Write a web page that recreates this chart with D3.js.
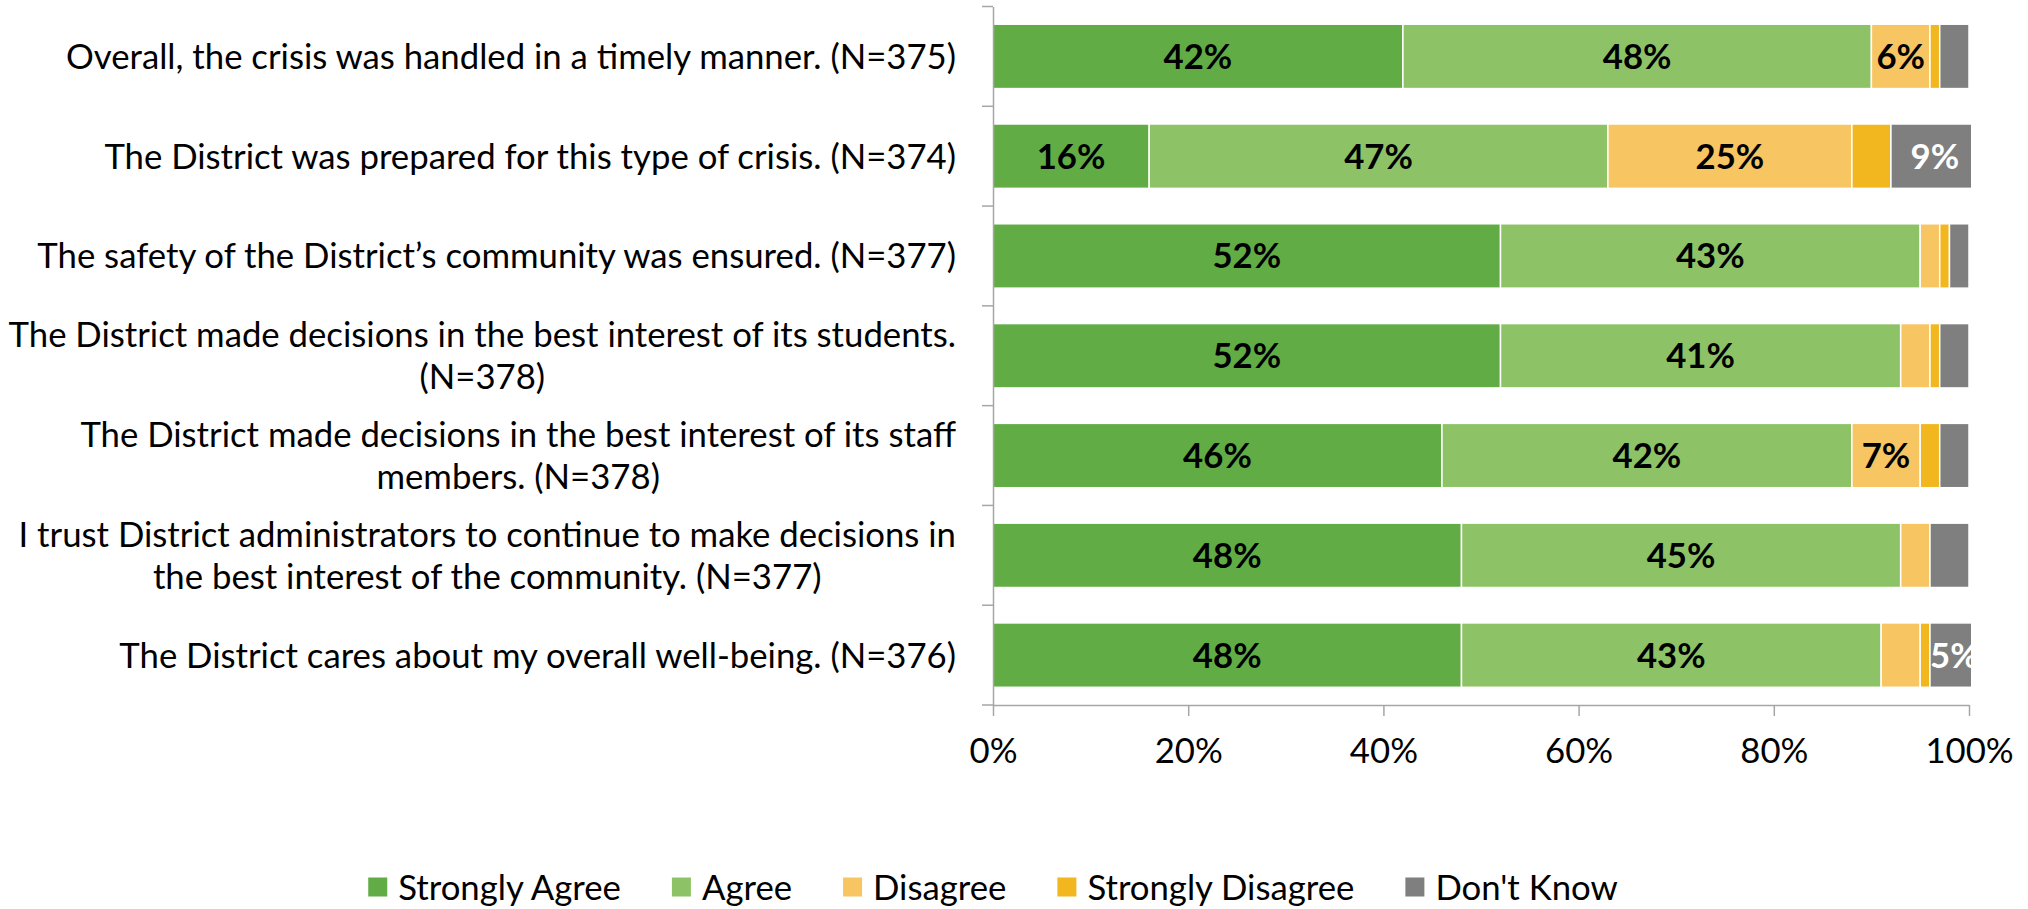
<!DOCTYPE html>
<html>
<head>
<meta charset="utf-8">
<script src="https://cdn.jsdelivr.net/npm/d3@7"></script>
<style>
  html, body { margin: 0; padding: 0; background: #fff; }
  svg { display: block; }
  text { font-family: Lato, "Open Sans", sans-serif; }
</style>
</head>
<body>
<svg id="chart" width="2028" height="909"></svg>
<script>
// ---------------- data ----------------
const categories = [
  "Overall, the crisis was handled in a timely manner. (N=375)",
  "The District was prepared for this type of crisis. (N=374)",
  "The safety of the District\u2019s community was ensured. (N=377)",
  "The District made decisions in the best interest of its students.\n(N=378)",
  "The District made decisions in the best interest of its staff\nmembers. (N=378)",
  "I trust District administrators to continue to make decisions in\nthe best interest of the community. (N=377)",
  "The District cares about my overall well-being. (N=376)"
];
const seriesNames = ["Strongly Agree", "Agree", "Disagree", "Strongly Disagree", "Don't Know"];
const stronglyAgree    = [42, 16, 52, 52, 46, 48, 48];
const agree            = [48, 47, 43, 41, 42, 45, 43];
const disagree         = [6, 25, 2, 3, 7, 3, 4];
const stronglyDisagree = [1, 4, 1, 1, 2, 0, 1];
const dontKnow         = [3, 9, 2, 3, 3, 4, 5];
const xTickValues = [0, 20, 40, 60, 80, 100];
const xTickLabels = ["0%", "20%", "40%", "60%", "80%", "100%"];

// ---------------- styles ----------------
const colors = ["#62ac46", "#8dc366", "#f7c562", "#f2b61e", "#7f7f7f"];
const labelColors = ["#000", "#000", "#000", "#000", "#fff"];
const axisColor = "#a6a6a6";

const svg = d3.select("#chart");

// font fitting: match Calibri-like width with the available font
const probe = svg.append("text").attr("font-size", 36).text(categories[0]);
const w0 = probe.node().getComputedTextLength();
probe.remove();
const fs = Math.min(36, 36 * 890 / w0);

const table = categories.map((c, i) => ({
  category: c,
  "Strongly Agree": stronglyAgree[i],
  "Agree": agree[i],
  "Disagree": disagree[i],
  "Strongly Disagree": stronglyDisagree[i],
  "Don't Know": dontKnow[i]
}));
const stacked = d3.stack().keys(seriesNames)(table);

const plot = { left: 993, right: 1969, top: 6.5, bottom: 705 };
const x = d3.scaleLinear().domain([0, 100]).range([plot.left, plot.right]);
const y = d3.scaleBand().domain(categories).range([plot.top, plot.bottom])
  .paddingInner(0.355).paddingOuter(0.1775);

// clip (plot area edge; values summing past 100% are cut here)
svg.append("defs").append("clipPath").attr("id", "plotclip")
  .append("rect").attr("x", plot.left).attr("y", 0)
  .attr("width", plot.right - plot.left + 2).attr("height", plot.bottom);

// bars
const gBars = svg.append("g").attr("clip-path", "url(#plotclip)");
stacked.forEach((layer, si) => {
  gBars.selectAll(null).data(layer).enter().append("rect")
    .attr("x", d => x(d[0]))
    .attr("y", d => y(d.data.category))
    .attr("width", d => Math.max(0, x(d[1]) - x(d[0])))
    .attr("height", y.bandwidth())
    .attr("fill", colors[si])
    .attr("stroke", "#fff")
    .attr("stroke-width", 1.5);
});

// data labels
const gLabels = svg.append("g").attr("clip-path", "url(#plotclip)");
stacked.forEach((layer, si) => {
  gLabels.selectAll(null).data(layer.filter(d => d[1] - d[0] >= 5)).enter().append("text")
    .attr("x", d => x((d[0] + d[1]) / 2))
    .attr("y", d => y(d.data.category) + y.bandwidth() / 2 + fs * 0.36)
    .attr("text-anchor", "middle")
    .attr("font-weight", "bold")
    .attr("font-size", fs)
    .attr("fill", labelColors[si])
    .text(d => Math.round(d[1] - d[0]) + "%");
});

// y axis (category)
const yAxis = d3.axisLeft(y).tickSize(0).tickFormat(() => "");
const gy = svg.append("g").attr("transform", `translate(${plot.left},0)`).call(yAxis);
gy.select(".domain").attr("stroke", axisColor).attr("stroke-width", 1.5);
// category tick marks between bands (Excel style)
const bounds = d3.range(categories.length + 1).map(i => plot.top + i * y.step());
svg.append("g").selectAll("line").data(bounds).enter().append("line")
  .attr("x1", plot.left - 11).attr("x2", plot.left)
  .attr("y1", d => d).attr("y2", d => d)
  .attr("stroke", axisColor).attr("stroke-width", 1.5);

// category labels
const gCat = svg.append("g");
const labelRight = 956;
const lineH = fs * 1.22;
categories.forEach(c => {
  const lines = c.split("\n");
  const cy = y(c) + y.bandwidth() / 2;
  const t = gCat.append("g");
  const texts = lines.map((ln, li) => t.append("text")
    .attr("font-size", fs).attr("fill", "#000")
    .attr("text-anchor", "middle")
    .attr("y", cy + (li - (lines.length - 1) / 2) * lineH + fs * 0.36)
    .text(ln));
  const maxW = d3.max(texts, tx => tx.node().getComputedTextLength());
  texts.forEach(tx => tx.attr("x", labelRight - maxW / 2));
});

// x axis
const xAxis = d3.axisBottom(x).tickValues(xTickValues)
  .tickFormat((d, i) => xTickLabels[i]).tickSize(11).tickSizeOuter(0);
const gx = svg.append("g").attr("transform", `translate(0,${plot.bottom})`).call(xAxis);
gx.select(".domain").attr("stroke", axisColor).attr("stroke-width", 1.5);
gx.selectAll(".tick line").attr("stroke", axisColor).attr("stroke-width", 1.5);
gx.selectAll(".tick text").attr("font-size", fs).attr("fill", "#000")
  .attr("font-family", "Lato, 'Open Sans', sans-serif")
  .attr("dy", null).attr("y", 58);

// legend
const gLeg = svg.append("g");
const sq = 19, gapTxt = 11, gapItem = 51;
const items = seriesNames.map((n, i) => {
  const g = gLeg.append("g");
  g.append("rect").attr("width", sq).attr("height", sq).attr("y", -sq / 2).attr("fill", colors[i]);
  const tx = g.append("text").attr("x", sq + gapTxt).attr("y", fs * 0.36)
    .attr("font-size", fs).attr("fill", "#000").text(n);
  return { g, w: sq + gapTxt + tx.node().getComputedTextLength() };
});
const totalW = d3.sum(items, d => d.w) + gapItem * (items.length - 1);
let lx = 993 - totalW / 2;
items.forEach(it => { it.g.attr("transform", `translate(${lx},887)`); lx += it.w + gapItem; });
</script>
</body>
</html>
